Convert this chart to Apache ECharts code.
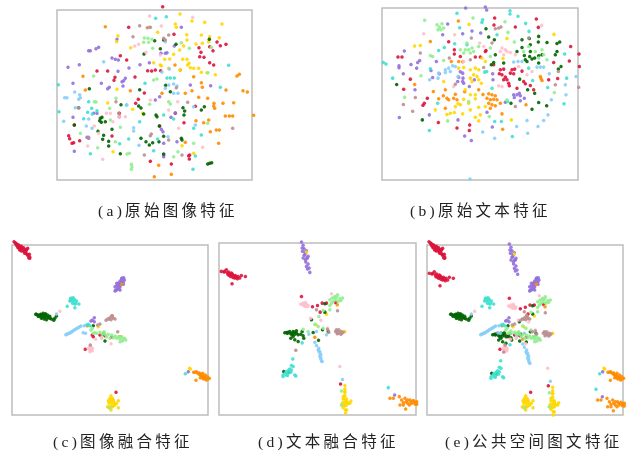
<!DOCTYPE html>
<html>
<head>
<meta charset="utf-8">
<title>特征分布</title>
<script src="https://cdn.jsdelivr.net/npm/echarts@6/dist/echarts.min.js"></script>
<style>
  html, body { margin: 0; padding: 0; background: #fff; }
  #chart { width: 632px; height: 451px; }
  /* the source figure is a soft, resampled scan with wide caption spacing */
  #chart svg { filter: blur(0.5px); }
  #chart svg text { letter-spacing: 3.3px; }
</style>
</head>
<body>
<div id="chart"></div>
<script>
// class names and their colours
var classNames = ['crimson', 'purple', 'orange', 'gold', 'darkgreen', 'turquoise', 'skyblue', 'lightgreen', 'pink', 'rosybrown'];
var classColors = ['#DC143C', '#9370DB', '#FF8C00', '#FFD700', '#006400', '#40E0D0', '#87CEFA', '#90EE90', '#FFC0CB', '#BC8F8F'];
var captions = ['(a)原始图像特征', '(b)原始文本特征', '(c)图像融合特征', '(d)文本融合特征', '(e)公共空间图文特征'];

// panel a, original image features
var aCrimson = [[337,20],[235,82],[371,103],[527,133],[510,137],[500,126],[478,140],[488,152],[452,157],[446,143],[461,172],[478,188],[490,195],[448,170],[210,167],[229,180],[292,212],[304,213],[315,210],[331,212],[140,213],[172,213],[254,231],[194,232],[191,241],[435,319],[264,298],[282,279],[256,310],[207,340],[207,350],[375,340],[401,368],[72,375],[55,407],[58,416],[70,428],[65,430],[88,422],[185,408],[300,484],[363,492],[415,467],[417,477],[418,465],[328,378]];
var aPurple = [[393,82],[200,118],[145,142],[137,146],[115,152],[120,152],[185,174],[195,178],[204,180],[87,194],[53,202],[236,204],[203,214],[297,188],[269,194],[350,158],[332,160],[345,160],[225,235],[220,242],[215,245],[153,250],[68,250],[218,258],[177,262],[172,266],[481,257],[420,255],[315,300],[328,290],[68,352],[130,340],[110,412],[115,415],[72,454],[340,430],[333,388],[375,338],[362,352],[340,465],[340,470],[380,425],[372,138],[140,340],[338,395]];
var aOrange = [[165,80],[98,229],[105,270],[240,272],[335,280],[374,195],[390,210],[430,230],[453,248],[456,262],[425,272],[405,280],[445,292],[472,295],[491,310],[490,318],[493,325],[518,310],[550,308],[527,270],[567,223],[560,228],[578,272],[591,276],[610,346],[525,348],[537,348],[547,348],[475,360],[437,362],[460,368],[498,390],[507,390],[480,395],[505,430],[405,427],[325,496],[363,523],[312,530]];
var aGold = [[389,42],[425,63],[375,72],[378,82],[463,67],[515,72],[203,107],[199,125],[241,143],[297,82],[322,97],[409,104],[453,105],[478,110],[507,113],[437,132],[456,130],[475,125],[410,120],[400,138],[388,150],[370,163],[343,178],[358,177],[310,188],[330,195],[333,197],[355,205],[389,210],[397,178],[410,178],[416,190],[420,203],[430,205],[445,205],[453,217],[495,224],[470,218],[412,195],[200,268],[172,309],[247,328],[188,455],[395,437],[277,340],[430,460]];
var aDarkgreen = [[313,122],[340,120],[477,118],[377,133],[330,146],[281,162],[117,266],[268,269],[346,256],[360,275],[212,314],[265,318],[272,324],[85,323],[398,323],[403,333],[401,345],[453,330],[462,320],[280,342],[317,345],[320,350],[150,355],[155,352],[148,362],[153,367],[165,365],[72,375],[327,378],[143,394],[185,388],[160,406],[157,418],[175,424],[175,438],[272,415],[287,425],[297,435],[307,428],[326,425],[340,409],[393,415],[395,420],[210,461],[340,462],[472,492],[478,490],[484,488]];
var aTurquoise = [[316,55],[348,50],[535,196],[24,254],[510,262],[26,335],[350,234],[360,234],[372,234],[284,250],[115,305],[124,325],[112,337],[100,356],[140,332],[126,342],[235,417],[208,431],[120,461],[322,417],[310,452],[428,508],[340,345],[430,385],[453,405],[370,357],[268,365],[228,315],[435,468]];
var aSkyblue = [[345,125],[160,185],[43,293],[50,293],[73,276],[88,284],[90,293],[85,298],[75,323],[40,364],[230,315],[115,357],[108,378],[125,385],[250,383],[250,393],[266,436],[357,207],[335,216],[345,265],[355,255],[370,252],[380,258],[370,280],[383,280],[435,375],[353,410],[430,320]];
var aLightgreen = [[282,114],[293,115],[305,118],[280,127],[295,127],[307,145],[393,128],[417,145],[483,142],[473,218],[320,237],[310,240],[130,228],[137,306],[178,325],[197,295],[210,382],[180,360],[90,400],[142,443],[230,462],[237,460],[243,493],[245,500],[243,508],[430,430],[383,455],[370,470],[298,313],[355,305],[360,312],[472,370],[132,305],[195,425]];
var aPink = [[298,48],[427,52],[333,78],[253,138],[265,133],[287,157],[330,165],[382,305],[168,340],[180,340],[225,350],[207,350],[188,365],[132,378],[145,400],[112,438],[157,478],[457,442],[300,300],[385,385],[355,330]];
var aRosybrown = [[268,77],[291,83],[300,82],[248,110],[340,115],[355,105],[345,120],[378,263],[197,305],[205,340],[85,323],[412,307],[547,385],[303,402],[300,407],[282,465],[395,465],[115,412],[355,420]];

// panel b, original text features
var bCrimson = [[358,55],[356,76],[483,58],[489,83],[420,82],[332,152],[220,126],[237,150],[237,163],[68,172],[80,172],[105,238],[85,268],[156,295],[147,310],[143,316],[189,368],[245,384],[283,375],[282,392],[611,163],[612,200],[586,140],[582,184],[535,188],[547,236],[520,240],[375,210],[385,208],[372,222],[380,225],[390,232],[395,240],[385,240],[400,250],[402,258],[410,210],[405,220],[418,208],[415,222],[440,214],[445,245],[450,252],[425,265],[465,257],[355,195],[300,172],[255,170],[315,172],[330,155],[475,270]];
var bPurple = [[271,25],[330,22],[334,31],[217,73],[202,105],[290,94],[262,102],[316,100],[87,154],[133,182],[127,188],[107,194],[71,198],[71,204],[124,205],[84,222],[183,185],[167,212],[192,222],[172,233],[119,270],[72,353],[162,345],[248,360],[351,381],[268,408],[288,422],[255,216],[262,220],[250,232],[263,235],[262,245],[265,250],[247,245],[282,260],[297,240],[352,222],[353,240],[415,285],[425,285],[417,293],[435,288],[447,295],[435,303],[432,280],[390,307],[335,337]];
var bOrange = [[249,64],[165,125],[118,254],[174,275],[210,270],[204,288],[190,297],[215,295],[220,300],[210,325],[235,295],[240,283],[245,300],[228,185],[250,185],[262,186],[310,270],[323,284],[340,282],[350,285],[360,288],[335,295],[345,300],[355,298],[365,300],[340,310],[350,315],[360,318],[345,325],[375,310],[380,342],[382,388],[452,315],[495,230],[497,236],[500,242],[268,276]];
var bGold = [[281,74],[536,104],[118,139],[135,137],[395,116],[383,176],[180,330],[215,344],[225,340],[237,338],[248,312],[255,315],[265,298],[285,285],[300,285],[300,297],[280,310],[285,330],[310,322],[315,345],[330,320],[262,342],[300,352],[310,363],[408,360],[285,210],[300,205],[310,210],[295,225],[305,230],[285,235],[310,240],[318,250],[290,245],[320,175],[330,185],[250,205],[265,203],[205,245],[240,320],[270,270]];
var bDarkgreen = [[332,87],[340,112],[357,120],[440,120],[490,110],[462,116],[489,127],[515,128],[553,127],[545,131],[465,135],[440,143],[425,155],[447,167],[463,170],[450,180],[455,185],[470,178],[478,175],[490,168],[490,190],[500,165],[545,155],[540,165],[360,165],[355,188],[348,195],[385,190],[557,200],[549,208],[433,238],[457,270],[478,280],[490,308],[514,318],[470,328],[407,310],[141,360],[64,254],[465,155]];
var bTurquoise = [[245,41],[404,33],[404,43],[428,50],[322,60],[320,68],[451,71],[253,84],[461,95],[365,105],[238,132],[207,143],[190,152],[24,188],[32,193],[52,235],[165,207],[574,235],[568,163],[566,312],[460,205],[334,215],[328,217],[350,265],[397,305],[187,310],[162,392],[378,365],[358,365],[411,410],[275,135],[472,242],[517,263]];
var bSkyblue = [[284,537],[210,210],[220,205],[232,198],[225,215],[210,218],[240,200],[190,220],[163,240],[188,235],[415,187],[428,185],[440,185],[485,202],[495,202],[505,202],[522,222],[602,230],[570,255],[572,285],[528,300],[518,345],[505,362],[488,380],[455,362],[424,380],[457,400],[358,415],[322,396],[248,230]];
var bLightgreen = [[148,62],[185,75],[200,72],[192,82],[197,90],[205,85],[188,90],[293,55],[389,66],[398,98],[417,127],[275,130],[270,150],[280,150],[295,155],[265,160],[285,160],[255,150],[290,145],[165,167],[172,170],[137,228],[88,292],[205,182],[480,155],[500,150],[505,165],[490,175],[515,180],[445,155],[460,140],[345,170],[310,140],[345,145],[537,278],[217,363],[342,350],[280,305],[395,300]];
var bPink = [[145,102],[238,105],[499,77],[265,185],[313,130],[325,140],[380,145],[390,150],[375,155],[395,155],[385,165],[405,158],[420,165],[430,200],[455,225],[470,215],[370,258],[380,260],[235,260]];
var bRosybrown = [[360,87],[370,85],[377,82],[288,115],[135,160],[350,130],[222,175],[325,203],[120,293],[84,314],[112,334],[285,180],[420,320],[610,262],[540,255],[549,215],[240,253],[460,115]];

// panel c, image fusion features
var cCrimson = [[6,-10],[10,-7],[14,-3],[17,0],[20,2],[22,6],[25,9],[28,4],[30,10],[33,13],[35,8],[38,14],[41,18],[44,13],[47,10],[40,23],[44,26],[48,30],[52,28],[53,36],[50,38],[12,-4],[20,8],[27,14],[34,18],[16,4],[13,0],[20,0],[18,8],[26,5],[23,15],[33,10],[36,18],[28,18],[43,15],[38,25],[46,30],[53,40],[219,313],[311,442],[240,270],[263,270],[278,272],[298,277],[243,275]];
var cPurple = [[334,98],[328,102],[323,108],[333,110],[318,115],[326,118],[313,122],[323,125],[316,130],[310,135],[320,132],[308,138],[330,100],[313,115],[328,110],[320,122],[328,100],[336,105],[320,115],[333,118],[308,125],[323,135],[313,135],[246,218],[240,226],[236,228],[246,230],[527,380]];
var cOrange = [[543,382],[551,380],[556,385],[563,390],[568,390],[573,395],[578,398],[586,402],[581,405],[576,400],[568,398],[590,400],[550,406],[560,384],[570,385],[578,390],[548,382],[560,388],[568,395],[584,395],[563,398],[573,402],[225,242],[323,275],[275,263],[300,212],[328,118]];
var cGold = [[296,452],[293,460],[300,460],[296,468],[303,468],[290,475],[298,475],[286,485],[293,485],[303,482],[318,467],[313,475],[318,488],[296,495],[308,480],[290,465],[300,485],[288,468],[306,475],[290,488],[298,485],[303,465],[531,370],[533,372],[258,245]];
var cDarkgreen = [[71,208],[78,210],[86,208],[93,205],[100,206],[106,210],[83,214],[90,216],[98,216],[108,218],[103,224],[113,214],[128,220],[125,226],[133,213],[118,222],[84,210],[95,211],[73,208],[88,210],[98,210],[103,215],[88,220],[113,220],[96,222],[78,214],[176,165],[278,288],[243,242],[273,267]];
var cTurquoise = [[178,160],[183,158],[173,168],[183,170],[193,168],[200,177],[188,177],[188,188],[165,184],[178,166],[186,164],[178,165],[186,163],[191,175],[181,175],[175,160],[228,238],[223,240],[233,242],[518,386]];
var cSkyblue = [[161,269],[168,266],[175,263],[182,258],[190,253],[198,248],[206,243],[216,242],[213,263],[220,265],[133,207],[164,267],[171,264],[178,260],[186,255],[194,250],[202,245]];
var cLightgreen = [[243,265],[253,265],[263,262],[270,267],[278,268],[288,268],[298,270],[303,278],[313,280],[323,282],[330,288],[336,280],[323,290],[308,273],[293,280],[283,275],[268,278],[236,255],[240,250],[293,488],[248,263],[275,260],[318,275],[328,275],[340,285],[333,282]];
var cPink = [[233,310],[236,315],[228,310],[240,310],[233,320],[240,317],[234,303],[231,313],[238,312],[236,306],[250,283],[268,280],[296,296],[143,199]];
var cRosybrown = [[298,212],[293,218],[303,220],[286,222],[281,226],[308,222],[300,216],[290,222],[296,224],[263,237],[256,240],[316,260],[234,300]];

// panel d, text fusion features
var dCrimson = [[7,85],[15,87],[22,80],[25,90],[32,93],[37,90],[42,97],[49,97],[57,100],[35,100],[47,105],[62,105],[67,97],[79,100],[55,107],[39,122],[27,95],[40,93],[50,102],[17,85],[29,87],[37,95],[47,100],[52,103],[42,103],[32,97],[247,160],[280,191],[295,187],[309,180],[322,180],[349,178],[303,207],[364,422]];
var dPurple = [[247,-3],[252,7],[255,17],[262,23],[250,25],[257,35],[267,40],[252,45],[259,50],[267,63],[262,70],[265,78],[272,88],[258,28],[263,45],[249,15],[259,30],[255,37],[265,45],[260,57],[270,75],[526,455]];
var dOrange = [[512,465],[522,465],[540,460],[547,470],[557,465],[565,470],[572,470],[582,472],[592,475],[587,482],[577,480],[565,480],[552,485],[542,485],[559,497],[560,475],[575,475],[585,476],[570,485],[552,478],[590,478],[287,282],[354,185],[592,483]];
var dGold = [[377,427],[377,437],[377,447],[377,457],[372,467],[382,467],[395,473],[377,477],[367,485],[382,485],[392,480],[372,493],[379,500],[379,510],[377,467],[377,487],[377,445],[372,460],[382,475],[387,480],[375,485],[382,500],[383,475],[370,478],[322,213],[262,27],[290,245],[377,265]];
var dDarkgreen = [[197,269],[207,267],[215,272],[222,265],[232,263],[227,273],[237,275],[249,265],[252,278],[215,285],[227,290],[237,295],[254,285],[205,270],[220,270],[202,268],[212,265],[227,267],[219,275],[232,270],[245,273],[222,280],[277,230],[282,268],[298,291],[310,260],[317,207],[317,182],[194,385],[209,387],[327,265]];
var dTurquoise = [[217,367],[212,377],[202,385],[207,390],[192,400],[202,395],[215,387],[227,395],[230,398],[209,380],[199,390],[205,397],[217,380],[192,395],[222,370],[221,347],[507,433],[249,299]];
var dSkyblue = [[287,297],[292,307],[299,315],[302,325],[305,333],[302,340],[307,353],[305,347],[299,325],[303,333],[305,343],[309,355],[297,320],[269,273],[292,265],[322,275],[370,409]];
var dLightgreen = [[332,170],[339,165],[347,160],[355,155],[362,167],[370,165],[357,175],[337,180],[332,187],[332,200],[345,165],[353,162],[365,172],[342,175],[350,170],[312,202],[299,220],[287,243],[297,250],[312,255],[252,258],[267,265],[367,443],[367,485]];
var dPink = [[245,183],[252,180],[259,178],[262,185],[257,190],[267,187],[255,185],[250,185],[260,183],[265,190],[337,152],[305,231],[362,370],[274,225],[325,255]];
var dRosybrown = [[352,260],[359,260],[367,265],[357,270],[372,267],[365,273],[349,265],[355,265],[362,268],[368,270],[354,272],[230,321],[325,258],[329,267],[355,203],[292,200]];

var chart = echarts.init(document.getElementById('chart'), null, { renderer: 'svg' });

// one entry per panel: position on the page, axis extents and its class arrays
var panels = [
    { box: [57, 10, 195, 170], xr: [20, 605], yr: [30, 540], sets: [aCrimson, aPurple, aOrange, aGold, aDarkgreen, aTurquoise, aSkyblue, aLightgreen, aPink, aRosybrown] },
    { box: [382, 8, 196, 172], xr: [20, 608], yr: [25, 540], sets: [bCrimson, bPurple, bOrange, bGold, bDarkgreen, bTurquoise, bSkyblue, bLightgreen, bPink, bRosybrown] },
    { box: [12, 245, 196, 170], xr: [0, 586], yr: [0, 510], sets: [cCrimson, cPurple, cOrange, cGold, cDarkgreen, cTurquoise, cSkyblue, cLightgreen, cPink, cRosybrown] },
    { box: [219, 243, 197, 172], xr: [0, 590], yr: [0, 515], sets: [dCrimson, dPurple, dOrange, dGold, dDarkgreen, dTurquoise, dSkyblue, dLightgreen, dPink, dRosybrown] },
    // the common space panel holds both fused sets
    { box: [427, 245, 196, 170], xr: [0, 588], yr: [0, 510], sets: [
        cCrimson.concat(dCrimson), cPurple.concat(dPurple), cOrange.concat(dOrange), cGold.concat(dGold), cDarkgreen.concat(dDarkgreen),
        cTurquoise.concat(dTurquoise), cSkyblue.concat(dSkyblue), cLightgreen.concat(dLightgreen), cPink.concat(dPink), cRosybrown.concat(dRosybrown)] }
];
var captionPos = [[98, 203], [410, 203], [53, 434], [258, 434], [445, 434]];

var grids = [], xAxes = [], yAxes = [], series = [], titles = [];
panels.forEach(function (p, i) {
    grids.push({
        left: p.box[0], top: p.box[1], width: p.box[2], height: p.box[3],
        show: true, borderColor: '#bdbdbd', borderWidth: 1.5, backgroundColor: '#fff'
    });
    xAxes.push({ type: 'value', gridIndex: i, min: p.xr[0], max: p.xr[1], show: false });
    yAxes.push({ type: 'value', gridIndex: i, min: p.yr[0], max: p.yr[1], inverse: true, show: false });
    p.sets.forEach(function (pts, k) {
        series.push({
            name: classNames[k],
            type: 'scatter',
            xAxisIndex: i,
            yAxisIndex: i,
            clip: false,
            silent: true,
            symbolSize: 3.5,
            data: pts,
            itemStyle: { color: classColors[k], opacity: 0.9 }
        });
    });
    titles.push({
        text: captions[i],
        left: captionPos[i][0],
        top: captionPos[i][1],
        padding: 0,
        textStyle: { fontFamily: '"Liberation Serif", "Noto Sans CJK SC"', fontSize: 15.5, fontWeight: 'normal', color: '#222' }
    });
});

chart.setOption({
    animation: false,
    backgroundColor: '#fff',
    title: titles,
    grid: grids,
    xAxis: xAxes,
    yAxis: yAxes,
    series: series
});
</script>
</body>
</html>
